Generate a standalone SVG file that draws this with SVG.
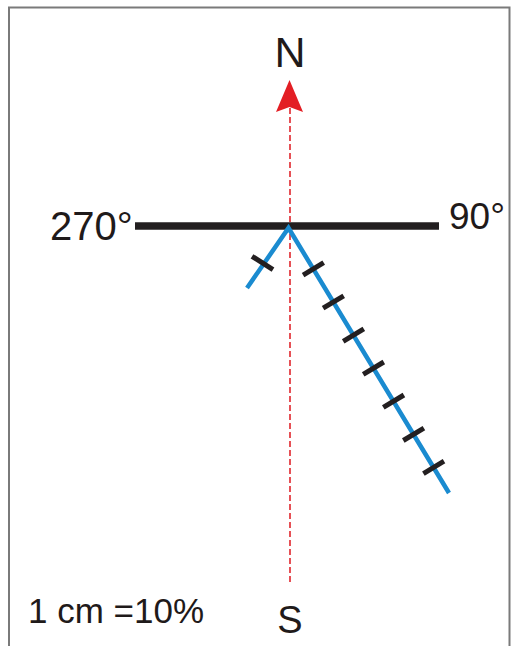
<svg xmlns="http://www.w3.org/2000/svg" width="511" height="646" viewBox="0 0 511 646">
<style>
.t{font-family:"Liberation Sans",Arial,sans-serif;fill:#1f1a1a}
.tick{stroke:#231f20;stroke-width:5;stroke-linecap:butt}
.blue{stroke:#1a8bd0;stroke-width:4.5;fill:none;stroke-linecap:butt;stroke-linejoin:miter}
</style>
<rect width="511" height="646" fill="#fff"/>
<path d="M9,660 V7.5 H509.5 V660" fill="none" stroke="#7a7a7a" stroke-width="2"/>
<g id="connectors">
<line x1="290" y1="108" x2="290" y2="583" stroke="#e0262c" stroke-width="1.6" stroke-dasharray="6 3"/>
<polygon points="289.5,80 303,112 289.5,107 276,112" fill="#e31e24"/>
<line x1="135" y1="226" x2="439" y2="226" stroke="#231f20" stroke-width="7.5"/>
<polyline class="blue" points="247,288 288.5,228 449,493"/>
</g>
<g id="ticks">
<line class="tick" x1="252" y1="256.3" x2="273" y2="269.7"/>
<line class="tick" x1="303.1" y1="275.1" x2="323.7" y2="262.7"/>
<line class="tick" x1="323.1" y1="308.2" x2="343.7" y2="295.8"/>
<line class="tick" x1="343.2" y1="341.3" x2="363.8" y2="328.9"/>
<line class="tick" x1="363.2" y1="374.4" x2="383.8" y2="362.0"/>
<line class="tick" x1="383.3" y1="407.4" x2="403.9" y2="395.0"/>
<line class="tick" x1="403.3" y1="440.5" x2="423.9" y2="428.1"/>
<line class="tick" x1="423.4" y1="473.6" x2="444.0" y2="461.2"/>
</g>
<g id="label-N"><text class="t" x="290" y="67" font-size="43" text-anchor="middle">N</text></g>
<g id="label-S"><text class="t" x="290" y="633" font-size="38" text-anchor="middle">S</text></g>
<g id="label-270"><text class="t" x="50" y="240" font-size="40">270°</text></g>
<g id="label-90"><text class="t" x="449" y="229" font-size="37">90°</text></g>
<g id="label-scale"><text class="t" x="28" y="623" font-size="35">1 cm =10%</text></g>
</svg>
